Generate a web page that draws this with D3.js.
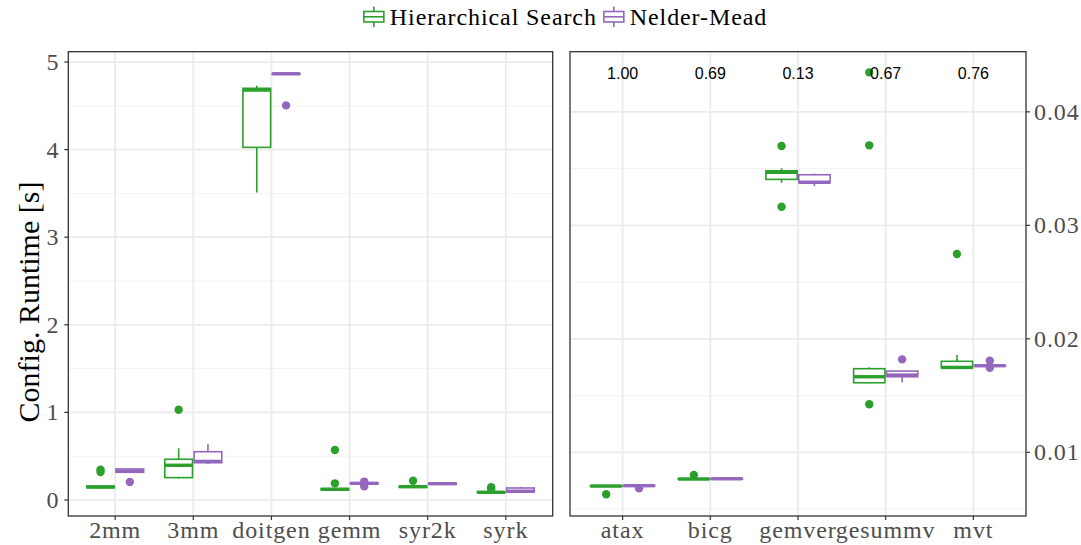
<!DOCTYPE html>
<html>
<head>
<meta charset="utf-8">
<script src="https://cdn.jsdelivr.net/npm/d3@7"></script>
<style>
  body { margin: 0; background: #fff; }
  text { font-family: "Liberation Serif", "DejaVu Serif", serif; }
  .serif { letter-spacing: 0.9px; }
</style>
</head>
<body>
<svg id="chart" width="1081" height="545"></svg>
<script>
// ---- data ----
const seriesNames = ["Hierarchical Search", "Nelder-Mead"];
const seriesColors = ["#2ca02c", "#9467bd"];

const leftCats = ["2mm", "3mm", "doitgen", "gemm", "syr2k", "syrk"];
const rightCats = ["atax", "bicg", "gemver", "gesummv", "mvt"];

const leftTicks = [0, 1, 2, 3, 4, 5];
const rightTicks = [0.01, 0.02, 0.03, 0.04];
const rightTickLabels = ["0.01", "0.02", "0.03", "0.04"];

// box stats: [lower whisker, q1, median, q3, upper whisker]
const hsLeftBoxes = [
  [0.13, 0.14, 0.148, 0.158, 0.165],
  [0.245, 0.255, 0.396, 0.465, 0.59],
  [3.51, 4.026, 4.68, 4.70, 4.73],
  [0.11, 0.115, 0.122, 0.13, 0.14],
  [0.14, 0.145, 0.152, 0.158, 0.165],
  [0.08, 0.085, 0.088, 0.093, 0.10]
];
const nmLeftBoxes = [
  [0.31, 0.316, 0.33, 0.354, 0.36],
  [0.41, 0.426, 0.44, 0.551, 0.636],
  [4.855, 4.86, 4.866, 4.87, 4.875],
  [0.18, 0.183, 0.19, 0.196, 0.20],
  [0.175, 0.18, 0.186, 0.192, 0.197],
  [0.09, 0.093, 0.10, 0.137, 0.15]
];
const hsLeftOutliers = [[0.32, 0.345], [1.03], [], [0.19, 0.57], [0.22], [0.125, 0.145]];
const nmLeftOutliers = [[0.205], [], [4.505], [0.21, 0.155], [], []];

const hsRightBoxes = [
  [0.00695, 0.0070, 0.00703, 0.00706, 0.0071],
  [0.0076, 0.00762, 0.00765, 0.00768, 0.0077],
  [0.03375, 0.03405, 0.03467, 0.03481, 0.03502],
  [0.01608, 0.01613, 0.01666, 0.01737, 0.01749],
  [0.0174, 0.01745, 0.01748, 0.01802, 0.01857]
];
const nmRightBoxes = [
  [0.0070, 0.00703, 0.00706, 0.00709, 0.00712],
  [0.00762, 0.00764, 0.00767, 0.0077, 0.00772],
  [0.03346, 0.03375, 0.0338, 0.03446, 0.03455],
  [0.01617, 0.01666, 0.01681, 0.01716, 0.01716],
  [0.0176, 0.01761, 0.01763, 0.01766, 0.01768]
];
const hsRightOutliers = [[0.0063], [0.0080], [0.03164, 0.03699], [0.01423, 0.03705, 0.04348], [0.02747]];
const nmRightOutliers = [[0.00683], [], [], [0.01819], [0.01807, 0.01745]];

const ratioLabels = ["1.00", "0.69", "0.13", "0.67", "0.76"];

// ---- layout ----
const svg = d3.select("#chart");
const panelTop = 51.7, panelBottom = 516;
const gridMajor = "#ebebeb", gridMinor = "#f3f3f3";
const axisGrey = "#4d4d4d", frame = "#333333";
const tickFont = 24;

function panel(opts) {
  const { x0, x1, cats, yScale, majors, minors, boxes, outliers, side, tickLabels } = opts;
  const x = d3.scalePoint().domain(cats).range([x0, x1]).padding(0.6);
  const g = svg.append("g");

  // grid
  g.selectAll(".gmin").data(minors).join("line")
    .attr("x1", x0).attr("x2", x1)
    .attr("y1", d => yScale(d)).attr("y2", d => yScale(d))
    .attr("stroke", gridMinor).attr("stroke-width", 1);
  g.selectAll(".gmaj").data(majors).join("line")
    .attr("x1", x0).attr("x2", x1)
    .attr("y1", d => yScale(d)).attr("y2", d => yScale(d))
    .attr("stroke", gridMajor).attr("stroke-width", 1.8);
  g.selectAll(".gx").data(cats).join("line")
    .attr("x1", d => x(d)).attr("x2", d => x(d))
    .attr("y1", panelTop).attr("y2", panelBottom)
    .attr("stroke", gridMajor).attr("stroke-width", 1.8);

  const bw = x.step() * 0.375;

  boxes.forEach((series, si) => {
    const col = seriesColors[si];
    const offset = si === 0 ? -bw : 0;
    const sg = g.append("g");
    series.forEach((s, ci) => {
      const cx = x(cats[ci]) + offset;
      const mid = cx + bw / 2;
      // whiskers
      sg.append("line").attr("x1", mid).attr("x2", mid)
        .attr("y1", yScale(s[4])).attr("y2", yScale(s[3]))
        .attr("stroke", col).attr("stroke-width", 1.6);
      sg.append("line").attr("x1", mid).attr("x2", mid)
        .attr("y1", yScale(s[1])).attr("y2", yScale(s[0]))
        .attr("stroke", col).attr("stroke-width", 1.6);
      // box
      sg.append("rect")
        .attr("x", cx + 0.8).attr("width", bw - 1.6)
        .attr("y", yScale(s[3])).attr("height", Math.max(0.01, yScale(s[1]) - yScale(s[3])))
        .attr("fill", "#fff").attr("stroke", col).attr("stroke-width", 1.6);
      // median
      sg.append("line").attr("x1", cx + 0.8).attr("x2", cx + bw - 0.8)
        .attr("y1", yScale(s[2])).attr("y2", yScale(s[2]))
        .attr("stroke", col).attr("stroke-width", 3.4);
      // outliers
      outliers[si][ci].forEach(v => {
        sg.append("circle").attr("cx", mid).attr("cy", yScale(v)).attr("r", 4.2)
          .attr("fill", col);
      });
    });
  });

  // frame
  g.append("rect").attr("x", x0).attr("y", panelTop).attr("width", x1 - x0).attr("height", panelBottom - panelTop)
    .attr("fill", "none").attr("stroke", frame).attr("stroke-width", 1.3);

  // x axis
  const xa = g.append("g");
  cats.forEach(c => {
    xa.append("line").attr("x1", x(c)).attr("x2", x(c)).attr("y1", panelBottom).attr("y2", panelBottom + 4)
      .attr("stroke", frame).attr("stroke-width", 1.2);
    xa.append("text").attr("class", "serif").attr("x", x(c)).attr("y", panelBottom + 22).attr("text-anchor", "middle")
      .attr("font-size", tickFont).attr("fill", axisGrey).text(c);
  });

  // y axis
  const ax = side === "left" ? x0 : x1;
  const dir = side === "left" ? -1 : 1;
  majors.forEach((v, i) => {
    g.append("line").attr("x1", ax).attr("x2", ax + dir * 4)
      .attr("y1", yScale(v)).attr("y2", yScale(v))
      .attr("stroke", frame).attr("stroke-width", 1.2);
    g.append("text").attr("class", "serif").attr("x", ax + dir * (side === "left" ? 9 : 8)).attr("y", yScale(v))
      .attr("dy", "0.33em").attr("text-anchor", side === "left" ? "end" : "start")
      .attr("font-size", tickFont).attr("fill", axisGrey).text(tickLabels[i]);
  });
  return x;
}

const leftY = d3.scaleLinear().domain([-0.183, 5.118]).range([panelBottom, panelTop]);
const rightY = d3.scaleLinear().domain([0.00439, 0.0453]).range([panelBottom, panelTop]);

panel({
  x0: 68.3, x1: 552.7, cats: leftCats, yScale: leftY,
  majors: leftTicks, minors: [0.5, 1.5, 2.5, 3.5, 4.5],
  boxes: [hsLeftBoxes, nmLeftBoxes], outliers: [hsLeftOutliers, nmLeftOutliers],
  side: "left", tickLabels: leftTicks.map(String)
});

const rx = panel({
  x0: 570, x1: 1026, cats: rightCats, yScale: rightY,
  majors: rightTicks, minors: [0.005, 0.015, 0.025, 0.035, 0.045],
  boxes: [hsRightBoxes, nmRightBoxes], outliers: [hsRightOutliers, nmRightOutliers],
  side: "right", tickLabels: rightTickLabels
});

// ratio labels above the right-hand groups
svg.append("g").selectAll("text").data(ratioLabels).join("text")
  .attr("x", (d, i) => rx(rightCats[i])).attr("y", 79)
  .attr("text-anchor", "middle")
  .style("font-family", "'Liberation Sans', Arial, sans-serif")
  .attr("font-size", 16).attr("fill", "#000").text(d => d);

// y axis title
svg.append("text")
  .attr("transform", "translate(39,302) rotate(-90)")
  .attr("text-anchor", "middle").attr("font-size", 30).attr("fill", "#000")
  .text("Config. Runtime [s]");

// legend
const lg = svg.append("g");
let lx = 0;
seriesNames.forEach((name, i) => {
  const it = lg.append("g").attr("transform", `translate(${lx},0)`);
  const col = seriesColors[i];
  it.append("line").attr("x1", 11).attr("x2", 11).attr("y1", 6.5).attr("y2", 27)
    .attr("stroke", col).attr("stroke-width", 1.6);
  it.append("rect").attr("x", 1).attr("y", 11.5).attr("width", 20).attr("height", 10.5)
    .attr("fill", "#fff").attr("stroke", col).attr("stroke-width", 1.6);
  it.append("line").attr("x1", 1).attr("x2", 21).attr("y1", 16.8).attr("y2", 16.8)
    .attr("stroke", col).attr("stroke-width", 1.6);
  const t = it.append("text").attr("class", "serif").attr("x", 27).attr("y", 25).attr("font-size", tickFont)
    .attr("fill", "#000").text(name);
  lx += 27 + t.node().getComputedTextLength() + 6;
});
lg.attr("transform", `translate(${565 - (lx - 6) / 2},0)`);
</script>
</body>
</html>
